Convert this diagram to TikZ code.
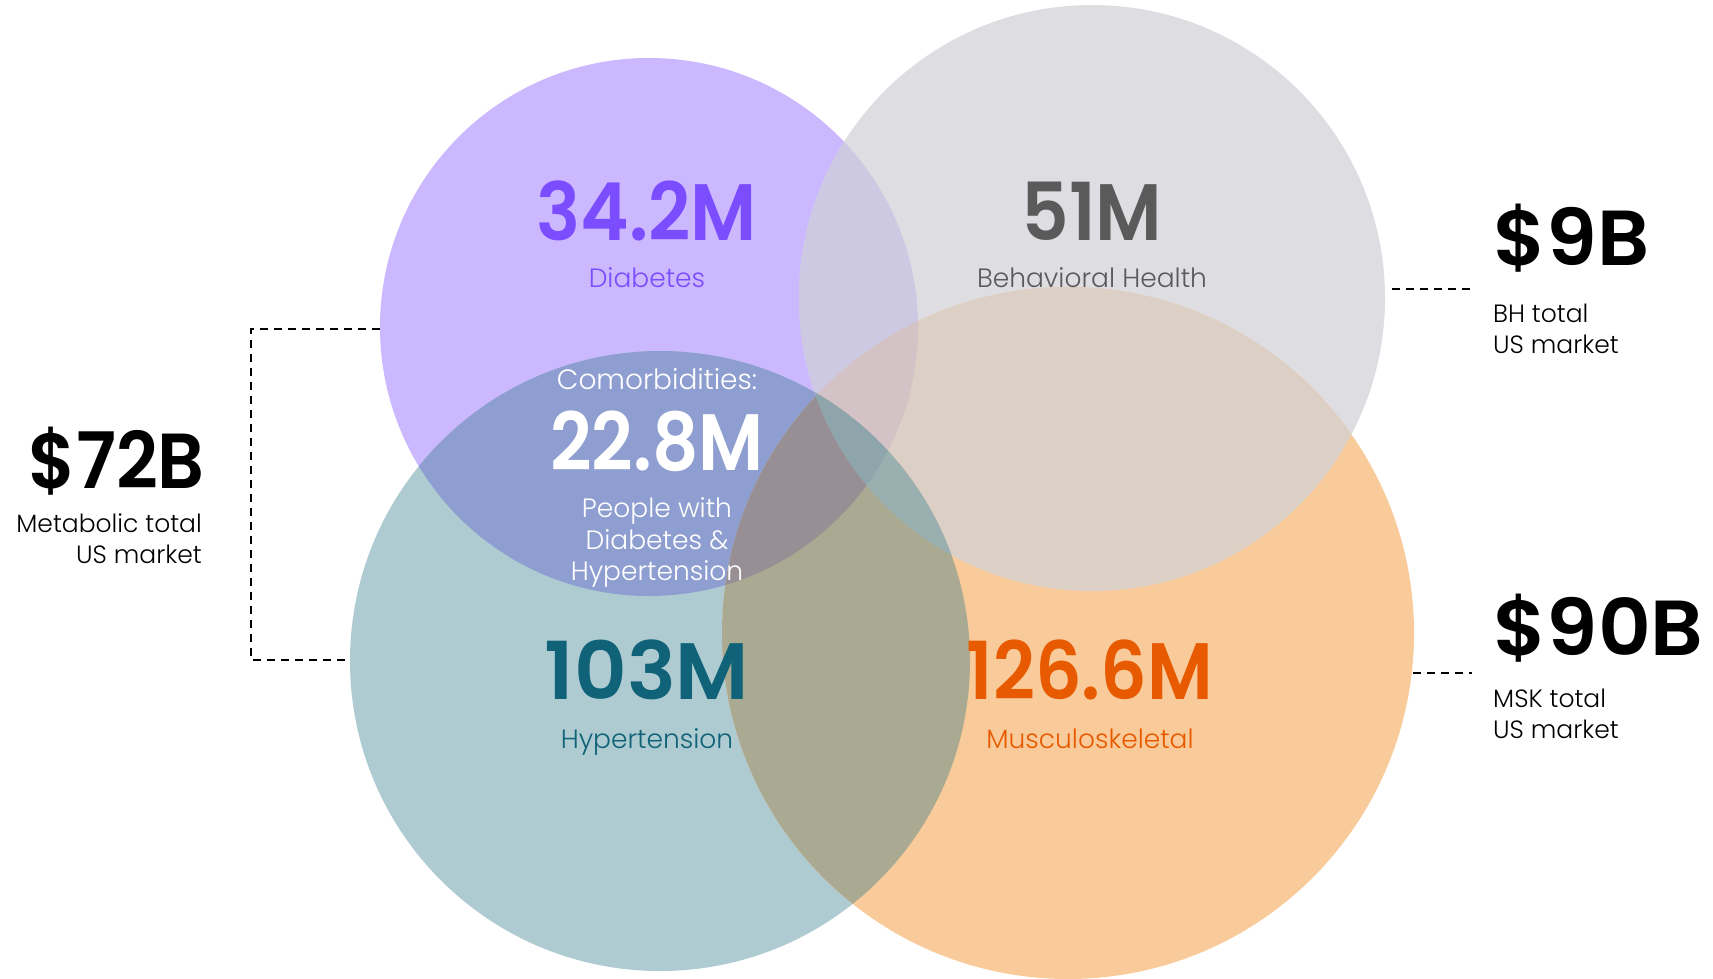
\documentclass[tikz,border=0pt]{standalone}
\usepackage{fontspec}
\setmainfont{Poppins}
\newfontfamily\numfont{Poppins}[UprightFont={* SemiBold}]
\newfontfamily\lightfont{Poppins}[UprightFont={* Light}]
\definecolor{cP}{HTML}{CBB8FE}
\definecolor{cG}{HTML}{DEDDE2}
\definecolor{cT}{HTML}{AFCBD2}
\definecolor{cO}{HTML}{F9CB9A}
\definecolor{cPG}{HTML}{CDC9E2}
\definecolor{cPT}{HTML}{8E9ED0}
\definecolor{cPO}{HTML}{D6B7C2}
\definecolor{cGT}{HTML}{A9BFC6}
\definecolor{cGO}{HTML}{DCCFC5}
\definecolor{cTO}{HTML}{AAAA92}
\definecolor{cPGT}{HTML}{95A8C8}
\definecolor{cPGO}{HTML}{D3C3C6}
\definecolor{cPTO}{HTML}{978F94}
\definecolor{cGTO}{HTML}{9AAFB0}
\definecolor{cPGTO}{HTML}{8FA5AC}
\definecolor{tP}{HTML}{7C4DFF}
\definecolor{tG}{HTML}{5A5A5A}
\definecolor{tT}{HTML}{0F6277}
\definecolor{tO}{HTML}{E85A00}
\newcommand\sx[2]{\scalebox{#1}[1]{#2}}
\begin{document}
\begin{tikzpicture}[x=1pt,y=-1pt,
  big/.style={font=\numfont\fontsize{80}{80}\selectfont, anchor=base, inner sep=0pt},
  lab/.style={font=\lightfont\fontsize{26.5}{31}\selectfont, anchor=base, inner sep=0pt},
  money/.style={font=\numfont\fontsize{78}{78}\selectfont, inner sep=0pt},
  blab/.style={font=\lightfont\fontsize{25}{31}\selectfont, inner sep=0pt},
  dashline/.style={black, line width=2.3pt, dash pattern=on 8pt off 6pt}]
\useasboundingbox (0,0) rectangle (1713,978);
\fill[white] (0,0) rectangle (1713,978);
\coordinate (P) at (649,327);
\coordinate (G) at (1092,298);
\coordinate (T) at (660,661);
\coordinate (O) at (1068,633);
\def\cirP{(P) circle[radius=269]}
\def\cirG{(G) circle[radius=293]}
\def\cirT{(T) circle[radius=310]}
\def\cirO{(O) circle[radius=346]}
% single regions
\fill[cP] \cirP;
\fill[cG] \cirG;
\fill[cT] \cirT;
\fill[cO] \cirO;
% pairs
\begin{scope}\clip \cirP; \fill[cPG] \cirG; \end{scope}
\begin{scope}\clip \cirP; \fill[cPT] \cirT; \end{scope}
\begin{scope}\clip \cirP; \fill[cPO] \cirO; \end{scope}
\begin{scope}\clip \cirG; \fill[cGT] \cirT; \end{scope}
\begin{scope}\clip \cirG; \fill[cGO] \cirO; \end{scope}
\begin{scope}\clip \cirT; \fill[cTO] \cirO; \end{scope}
% triples
\begin{scope}\clip \cirP; \clip \cirG; \fill[cPGT] \cirT; \end{scope}
\begin{scope}\clip \cirP; \clip \cirG; \fill[cPGO] \cirO; \end{scope}
\begin{scope}\clip \cirP; \clip \cirT; \fill[cPTO] \cirO; \end{scope}
\begin{scope}\clip \cirG; \clip \cirT; \fill[cGTO] \cirO; \end{scope}
% all four
\begin{scope}\clip \cirP; \clip \cirG; \clip \cirT; \fill[cPGTO] \cirO; \end{scope}

% circle texts
\node[big, text=tP] (n34) at (647,240) {\sx{0.92}{34.2M}};
\node[lab, text=tP] (l34) at (647,287) {Diabetes};
\node[big, text=tG] (n51) at (1092,240) {\sx{0.925}{51M}};
\node[lab, text=tG] (l51) at (1092,287) {Behavioral Health};
\node[lab, text=white, font=\lightfont\fontsize{28}{28}\selectfont] (com) at (657,389) {Comorbidities:};
\node[big, text=white] (n22) at (657,470) {\sx{0.905}{22.8M}};
\node[lab, text=white] (p1) at (657,517) {People with};
\node[lab, text=white] (p2) at (657,549) {Diabetes \&};
\node[lab, text=white] (p3) at (657,580) {Hypertension};
\node[big, text=tT] (n103) at (647,699) {\sx{1.02}{103M}};
\node[lab, text=tT] (l103) at (647,748) {Hypertension};
\node[big, text=tO] (n126) at (1090,699) {\sx{0.913}{126.6M}};
\node[lab, text=tO] (l126) at (1090,748) {Musculoskeletal};

% market labels
\node[money, anchor=base east] (m72) at (205,488) {\sx{0.935}{\$72B}};
\node[blab, anchor=base east] (m72a) at (202,532) {Metabolic total};
\node[blab, anchor=base east] (m72b) at (202,563) {US market};
\node[money, anchor=base west] (m9) at (1493,265) {\sx{1.04}{\$9B}};
\node[blab, anchor=base west] (m9a) at (1493,322) {BH total};
\node[blab, anchor=base west] (m9b) at (1493,353) {US market};
\node[money, anchor=base west] (m90) at (1493,655) {\sx{1.05}{\$90B}};
\node[blab, anchor=base west] (m90a) at (1493,707) {MSK total};
\node[blab, anchor=base west] (m90b) at (1493,738) {US market};

% dashed connectors
\coordinate (Pw) at (380,329);
\coordinate (k1) at (251,329);
\coordinate (k2) at (251,660);
\coordinate (Tw) at (350,660);
\draw[dashline] (Pw) -- (k1) -- (k2) -- (Tw);
\coordinate (Ge) at (1392,289);
\coordinate (Gd) at (1472,289);
\draw[dashline] (Ge) -- (Gd);
\coordinate (Oe) at (1413,673);
\coordinate (Od) at (1472,673);
\draw[dashline] (Oe) -- (Od);
\end{tikzpicture}
\end{document}
